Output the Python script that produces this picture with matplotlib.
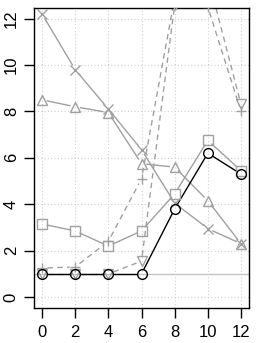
import numpy as np
import matplotlib
matplotlib.use('Agg')
import matplotlib.pyplot as plt

plt.rcParams['font.family'] = ['Liberation Sans', 'DejaVu Sans']

# data
x = [0, 2, 4, 6, 8, 10, 12]
circ = [1.0, 1.0, 1.0, 1.0, 3.8, 6.2, 5.3]
square = [3.15, 2.85, 2.2, 2.85, 4.45, 6.75, 5.45]
cross = [12.2, 9.8, 8.1, 6.35, 4.05, 2.95, 2.3]
tri_up = [8.5, 8.2, 7.95, 5.75, 5.6, 4.15, 2.3]
plus = [1.25, 1.3, 2.4, 5.1, 12.9, 12.5, 8.0]
tri_down = [1.0, 1.0, 1.0, 1.55, 12.6, 13.8, 8.3]

gray = '#a0a0a0'
series = [
    (square, 's', gray, '-'),
    (cross, 'x', gray, '-'),
    (tri_up, '^', gray, '-'),
    (plus, '+', gray, (0, (4, 3))),
    (tri_down, 'v', gray, (0, (4, 3))),
    (circ, 'o', 'black', '-'),
]

fig = plt.figure(figsize=(2.58, 3.43), dpi=100)
ax = fig.add_axes([0.132, 0.102, 0.833, 0.875])
ax.set_xlim(-0.48, 12.48)
ax.set_ylim(-0.47, 12.46)

ax.set_xticks(range(0, 13, 2))
ax.set_yticks(range(0, 13, 2))
ax.grid(True, color='#d0d0d0', linestyle=(0, (1, 2)), linewidth=0.8)
ax.set_axisbelow(True)
ax.axhline(1, color='#c4c4c4', linewidth=1, zorder=1)

# type="b": lines with gaps around the points
gap = 5.5
for ys, mk, col, ls in series:
    pts = ax.transData.transform(np.column_stack([x, ys]))
    for i in range(len(pts) - 1):
        p0, p1 = pts[i], pts[i + 1]
        d = p1 - p0
        L = np.hypot(*d)
        if L <= 2 * gap:
            continue
        u = d / L
        a = ax.transData.inverted().transform([p0 + u * gap, p1 - u * gap])
        ax.plot(a[:, 0], a[:, 1], color=col, linestyle=ls, linewidth=1, zorder=2)
    ax.plot(x, ys, linestyle='none', marker=mk, markersize=7,
            markerfacecolor='none', markeredgecolor=col, markeredgewidth=1, zorder=3)

for s in ax.spines.values():
    s.set_linewidth(1)
    s.set_color('black')
ax.tick_params(direction='out', length=7, width=1, labelsize=12)
ax.tick_params(axis='x', pad=5)
ax.tick_params(axis='y', pad=4)
for lab in ax.get_yticklabels():
    lab.set_rotation(90)
    lab.set_va('center')

fig.savefig('out.png', dpi=100)
